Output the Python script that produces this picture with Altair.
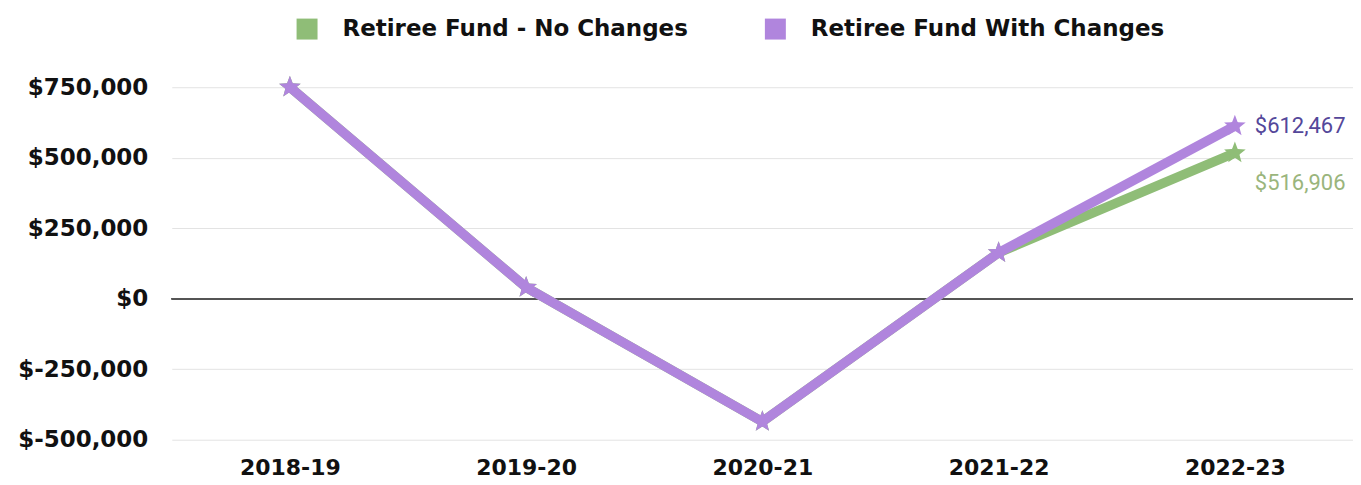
import altair as alt
import pandas as pd

years = ["2018-19", "2019-20", "2020-21", "2021-22", "2022-23"]
no_changes = [750000, 40000, -436000, 163000, 516906]
with_changes = [750000, 40000, -436000, 163000, 612467]
series = ["Retiree Fund - No Changes", "Retiree Fund With Changes"]
line_colors = ["#8fbd77", "#b085dd"]
label_colors = ["#9ab57c", "#54479a"]
y_ticks = [-500000, -250000, 0, 250000, 500000, 750000]

rows = []
for s, vals in zip(series, [no_changes, with_changes]):
    for yr, v in zip(years, vals):
        rows.append({"year": yr, "value": v, "series": s})
df = pd.DataFrame(rows)

STAR = ("M0,-1 L0.247,-0.34 L0.951,-0.309 L0.399,0.13 L0.588,0.809 L0,0.42 "
        "L-0.588,0.809 L-0.399,0.13 L-0.951,-0.309 L-0.247,-0.34 Z")

FONT = "DejaVu Sans"
YSCALE = alt.Scale(domain=[-500000, 750000], nice=False, zero=False)

x = alt.X("year:O",
          scale=alt.Scale(type="point", padding=0.5, domain=years),
          axis=alt.Axis(title=None, labelAngle=0, domain=False, ticks=False, grid=False,
                        labelFont=FONT, labelFontWeight="bold", labelFontSize=22,
                        labelColor="#111111", labelPadding=18))
y = alt.Y("value:Q", scale=YSCALE,
          axis=alt.Axis(title=None, values=y_ticks, domain=False, ticks=False, grid=True,
                        gridColor="#e3e3e3", gridWidth=1,
                        labelExpr="datum.value < 0 ? '$-' + format(-datum.value, ',') : '$' + format(datum.value, ',')",
                        labelFont=FONT, labelFontWeight="bold", labelFontSize=23,
                        labelColor="#111111", labelPadding=24))
color = alt.Color("series:N",
                  scale=alt.Scale(domain=series, range=line_colors),
                  legend=alt.Legend(title=None, orient="none", direction="horizontal",
                                    legendX=124, legendY=-70,
                                    symbolType="square", symbolSize=441, symbolStrokeWidth=0,
                                    symbolOpacity=1, labelLimit=0,
                                    labelFont=FONT, labelFontWeight="bold", labelFontSize=23,
                                    labelColor="#111111", labelOffset=24, columnPadding=75))

base = alt.Chart(df)

layers = [base.mark_line(opacity=0).encode(x=x, y=y)]
layers.append(base.mark_rule(color="#555555", strokeWidth=1.5).encode(y=alt.datum(0)))
for i, s in enumerate(series):
    sub = base.transform_filter(alt.datum.series == s)
    layers.append(sub.mark_line(strokeWidth=9.5, strokeCap="round", strokeJoin="round").encode(x=x, y=y, color=color))
    layers.append(sub.mark_point(shape=STAR, filled=True, size=520, opacity=1).encode(x=x, y=y, color=color))

for i, s in enumerate(series):
    dy = 30 if i == 0 else 0
    lab = base.transform_filter((alt.datum.series == s) & (alt.datum.year == years[-1])).transform_calculate(
        label="'$' + format(datum.value, ',')"
    ).mark_text(align="left", baseline="middle", dx=20, dy=dy,
                font="Liberation Sans Narrow, Roboto", fontSize=22,
                color=label_colors[i]).encode(x=x, y=y, text="label:N")
    layers.append(lab)

chart = alt.layer(*layers).properties(
    width=1183, height=353,
    background="white",
    autosize=alt.AutoSizeParams(type="none"),
    padding={"left": 164, "top": 79, "right": 0, "bottom": 41},
).configure_view(stroke=None)

chart.save("out.html", embed_options={"renderer": "svg", "actions": False})
